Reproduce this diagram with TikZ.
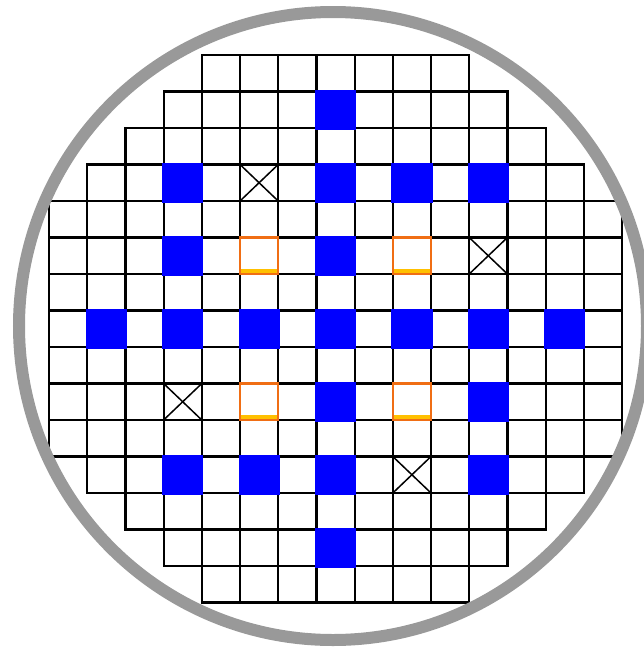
\documentclass[tikz,border=0pt]{standalone}
\usepackage{xcolor}
\usepackage{tikz}
\usetikzlibrary{calc}
\definecolor{rimGray}{RGB}{153,153,153}
\definecolor{rodBlue}{RGB}{0,0,255}
\definecolor{probeOrange}{RGB}{240,110,20}
\definecolor{probeYellow}{RGB}{255,192,0}

\begin{document}
\begin{tikzpicture}[x=1pt,y=-1pt]
    \pgfmathsetmacro\CellW{38.2}
    \pgfmathsetmacro\CellH{36.5}
    \pgfmathsetmacro\GridX{49}
    \pgfmathsetmacro\GridY{55}
    \pgfmathsetmacro\Over{1.5}
    \useasboundingbox (0,0) rectangle (644,649);
    %
    %
        % Griglia
    \foreach \r/\a/\b in {0/4/10,1/3/11,2/2/12,3/1/13,4/0/14,5/0/14,6/0/14,7/0/14,
                          8/0/14,9/0/14,10/0/14,11/1/13,12/2/12,13/3/11,14/4/10}
        \foreach \c in {\a,...,\b}
            \draw[line width=2.2pt] (\GridX+\c*\CellW,\GridY+\r*\CellH) rectangle ++(\CellW,\CellH);
    %
        % Celle blu
    \foreach \c/\r in {7/1,3/3,7/3,9/3,11/3,3/5,7/5,1/7,3/7,5/7,7/7,9/7,11/7,13/7,
                       7/9,11/9,3/11,5/11,7/11,11/11,7/13}
        \fill[rodBlue] (\GridX+\c*\CellW-\Over,\GridY+\r*\CellH-\Over)
            rectangle ++(\CellW+2*\Over,\CellH+2*\Over);
    %
        % Celle barrate
    \foreach \c/\r in {5/3,11/5,3/9,9/11}{
        \draw[line width=2pt,fill=white] (\GridX+\c*\CellW,\GridY+\r*\CellH) rectangle ++(\CellW,\CellH);
        \draw[line width=1.5pt] (\GridX+\c*\CellW,\GridY+\r*\CellH) -- ++(\CellW,\CellH);
        \draw[line width=1.5pt] (\GridX+\c*\CellW+\CellW,\GridY+\r*\CellH) -- ++(-\CellW,\CellH);
    }
    %
        % Celle arancioni
    \foreach \c/\r in {5/5,9/5,5/9,9/9}{
        \fill[white] (\GridX+\c*\CellW,\GridY+\r*\CellH) rectangle ++(\CellW,\CellH);
        \fill[probeYellow] (\GridX+\c*\CellW,\GridY+\r*\CellH+\CellH-5) rectangle ++(\CellW,5);
        \draw[probeOrange,line width=2.2pt] (\GridX+\c*\CellW,\GridY+\r*\CellH) rectangle ++(\CellW,\CellH);
    }
    %
        % Bordo
    \draw[rimGray,line width=12pt] (333,326) circle (314);
\end{tikzpicture}
\end{document}
